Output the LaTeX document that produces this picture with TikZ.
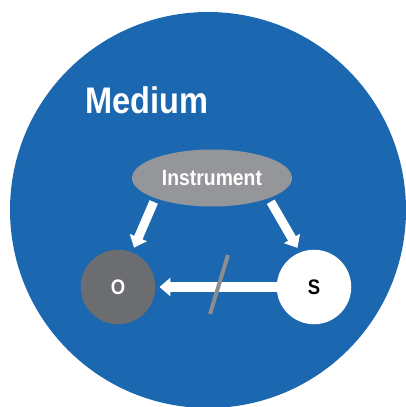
\documentclass[tikz,border=0pt]{standalone}
\usepackage{fontspec}
\setmainfont{Liberation Sans}[FakeStretch=0.88]
\usetikzlibrary{positioning,arrows.meta,calc,shapes.geometric}
\definecolor{mediumblue}{RGB}{27,103,176}
\definecolor{instrgray}{RGB}{149,150,153}
\definecolor{objgray}{RGB}{108,109,113}
\definecolor{slashgray}{RGB}{140,141,143}
\tikzset{
  medium/.style ={fill=mediumblue, draw=none},
  title/.style  ={font=\fontsize{37}{40}\selectfont\bfseries, text=white,
                  inner sep=0pt, anchor=base west},
  instr/.style  ={ellipse, fill=instrgray, minimum width=160pt, minimum height=57pt,
                  inner sep=0pt, text=white, font=\fontsize{22}{24}\selectfont\bfseries},
  party/.style  ={circle, minimum size=74.5pt, inner sep=0pt,
                  font=\fontsize{21}{23}\selectfont\bfseries},
  obj/.style    ={party, fill=objgray, text=white},
  subj/.style   ={party, fill=white, text=black},
  fl/.style     ={-{Triangle[width=18pt,length=11pt]}, line width=9pt, white},
  cut/.style    ={line width=4pt, slashgray},
}

\begin{document}
\begin{tikzpicture}[x=1pt, y=-1pt]
  \useasboundingbox (0,0) rectangle (405,407);

  % --- medium ---------------------------------------------------------
  \fill[medium] (208,210) circle (198);
  \node[title] (med) at (85,113) {Medium};

  % --- instrument and the two parties ---------------------------------
  \node[instr] (ins) at (212,178) {Instrument};
  \node[obj]   (o)   at (118,287) {O};
  \node[subj]  (s)   at (314,287) {S};

  % --- arrows ---------------------------------------------------------
  \draw[fl, shorten <=4pt, shorten >=5pt] (ins.south west) -- (o.68);
  \draw[fl, shorten <=4pt, shorten >=5pt] (ins.south east) -- (s.112);
  \draw[fl, line width=10pt, shorten <=-3pt, shorten >=4pt] (s) -- (o);
  \draw[cut] (228,255) -- (210,314);
\end{tikzpicture}
\end{document}
